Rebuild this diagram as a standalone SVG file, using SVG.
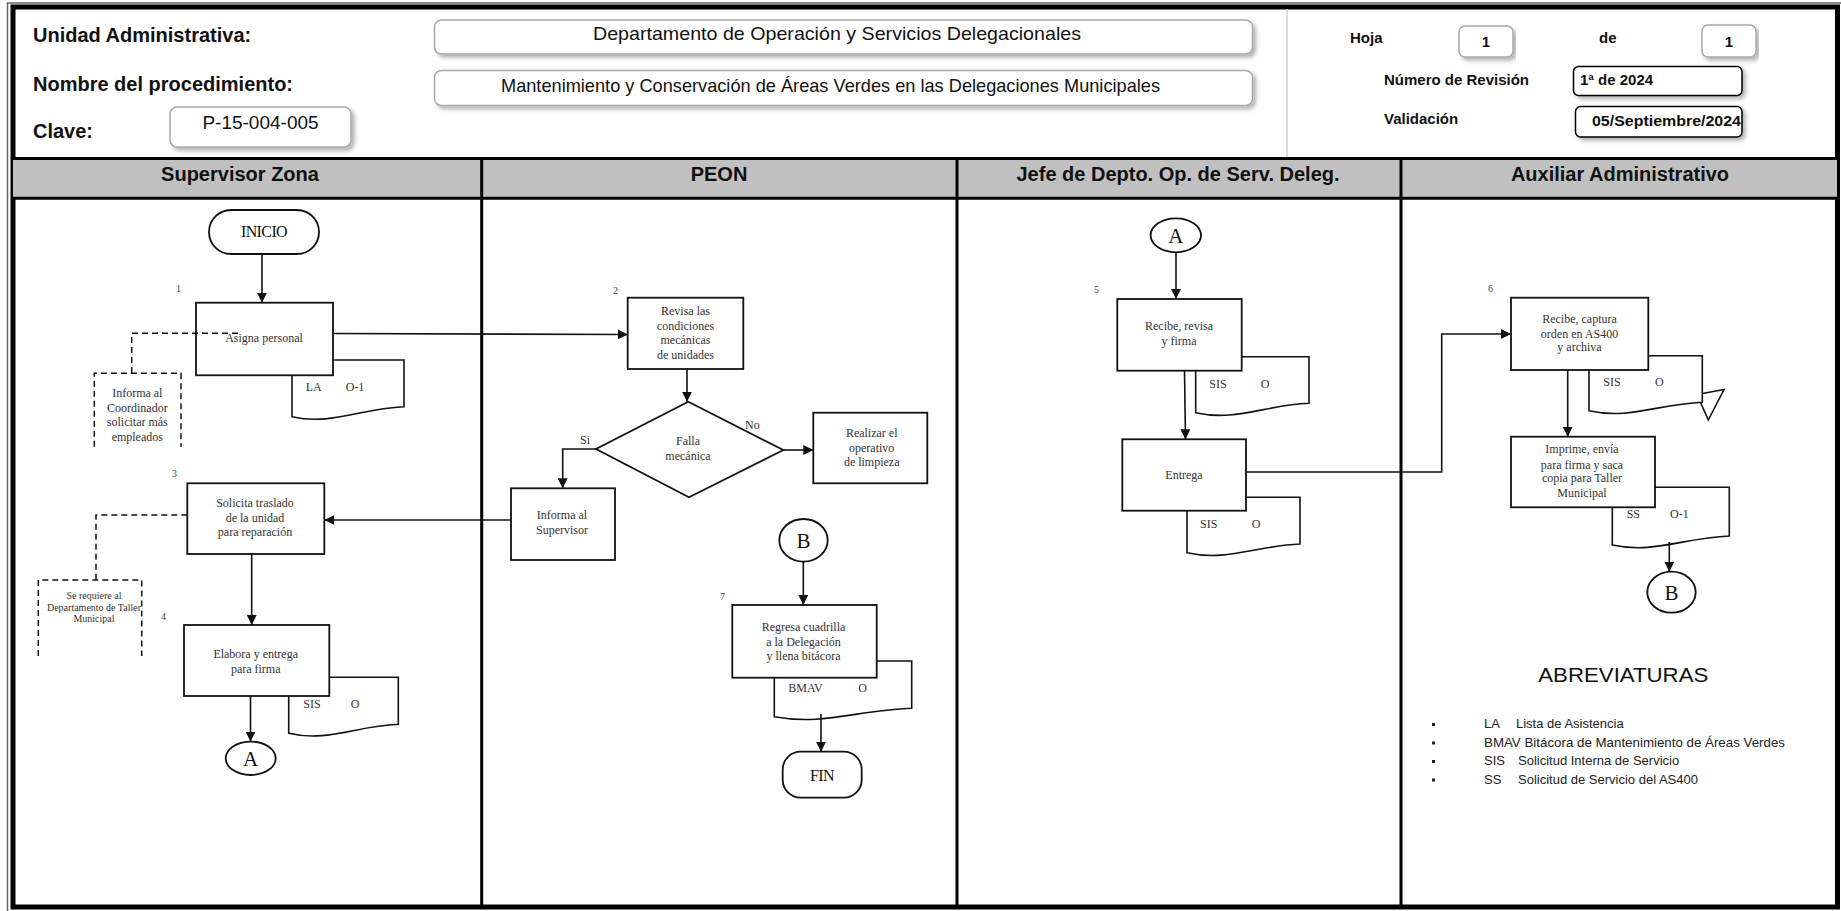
<svg xmlns="http://www.w3.org/2000/svg" width="1841" height="911" viewBox="0 0 1841 911">
  <defs>
    <style>
      .hl { font-family: "Liberation Sans", Arial, sans-serif; font-weight: bold; font-size: 20px; fill: #111; }
      .hv { font-family: "Liberation Sans", Arial, sans-serif; font-size: 19px; fill: #111; }
      .hs { font-family: "Liberation Sans", Arial, sans-serif; font-weight: bold; font-size: 15px; fill: #111; }
      .lane { font-family: "Liberation Sans", Arial, sans-serif; font-weight: bold; font-size: 20px; fill: #111; text-anchor: middle; }
      .hbox { fill: #fff; stroke: #a8a8a8; stroke-width: 1.5; }
      .kbox { fill: #fff; stroke: #000; stroke-width: 1.5; }
      .box { fill: #fff; stroke: #111; stroke-width: 1.8; }
      .doc { fill: #fff; stroke: #111; stroke-width: 1.6; }
      .t { font-family: "Liberation Serif", "Times New Roman", serif; font-size: 12px; fill: #333; text-anchor: middle; }
      .td { font-family: "Liberation Serif", "Times New Roman", serif; font-size: 12px; fill: #333; }
      .ts { font-family: "Liberation Serif", "Times New Roman", serif; font-size: 10px; fill: #333; text-anchor: middle; }
      .num { font-family: "Liberation Serif", "Times New Roman", serif; font-size: 10px; fill: #444; }
      .term { font-family: "Liberation Serif", "Times New Roman", serif; font-size: 16px; fill: #111; text-anchor: middle; letter-spacing: -0.6px; }
      .conn { font-family: "Liberation Serif", "Times New Roman", serif; font-size: 21px; fill: #111; text-anchor: middle; }
      .line { fill: none; stroke: #111; stroke-width: 1.6; }
      .arrow { fill: none; stroke: #111; stroke-width: 1.6; marker-end: url(#ah); }
      .dash { fill: none; stroke: #111; stroke-width: 1.5; stroke-dasharray: 6 4; }
      .abr { font-family: "Liberation Sans", Arial, sans-serif; font-size: 13px; fill: #222; }
    </style>
    <marker id="ah" viewBox="0 0 10 10" refX="10" refY="5" markerWidth="10" markerHeight="10" markerUnits="userSpaceOnUse" orient="auto">
      <path d="M0,0 L10,5 L0,10 z" fill="#111"/>
    </marker>
    <filter id="shadow" x="-5%" y="-20%" width="110%" height="150%">
      <feDropShadow dx="3" dy="3" stdDeviation="2" flood-color="#000" flood-opacity="0.3"/>
    </filter>
  </defs>

  <rect width="1841" height="911" fill="#fff"/>

  <!-- page frame -->
  <g id="frame">
    <rect x="7.5" y="3" width="1840" height="915" fill="none" stroke="#666" stroke-width="1.5"/>
    <rect x="13" y="7" width="1824.5" height="900" fill="none" stroke="#000" stroke-width="5"/>
    <line x1="1287" y1="9" x2="1287" y2="157" stroke="#d0d0d0" stroke-width="1.5"/>
  </g>

  <!-- header -->
  <g id="header">
    <text class="hl" x="33" y="42">Unidad Administrativa:</text>
    <text class="hl" x="33" y="91">Nombre del procedimiento:</text>
    <text class="hl" x="33" y="138">Clave:</text>

    <rect class="hbox" x="434.5" y="20" width="818" height="34" rx="7" filter="url(#shadow)"/>
    <text class="hv" x="837" y="40" text-anchor="middle" textLength="488" lengthAdjust="spacingAndGlyphs">Departamento de Operación y Servicios Delegacionales</text>

    <rect class="hbox" x="434.5" y="70.5" width="818" height="35" rx="7" filter="url(#shadow)"/>
    <text class="hv" x="830.5" y="92" text-anchor="middle" font-size="18" textLength="659" lengthAdjust="spacingAndGlyphs">Mantenimiento y Conservación de Áreas Verdes en las Delegaciones Municipales</text>

    <rect class="hbox" x="170" y="107" width="181" height="40" rx="7" filter="url(#shadow)"/>
    <text class="hv" x="260.5" y="129" text-anchor="middle" font-size="16">P-15-004-005</text>

    <text class="hs" x="1350" y="43">Hoja</text>
    <rect class="hbox" x="1459" y="26" width="54" height="31" rx="6" filter="url(#shadow)"/>
    <text class="hs" x="1486" y="47" text-anchor="middle">1</text>
    <text class="hs" x="1599" y="43">de</text>
    <rect class="hbox" x="1702" y="25" width="54" height="32" rx="6" filter="url(#shadow)"/>
    <text class="hs" x="1729" y="47" text-anchor="middle">1</text>

    <text class="hs" x="1384" y="85">Número de Revisión</text>
    <rect class="kbox" x="1573.5" y="66.5" width="168.5" height="29" rx="5" filter="url(#shadow)"/>
    <text class="hs" x="1580" y="85">1ª de 2024</text>

    <text class="hs" x="1384" y="124">Validación</text>
    <rect class="kbox" x="1575.5" y="106.5" width="166.5" height="30.5" rx="5" filter="url(#shadow)"/>
    <text class="hs" x="1592" y="126" textLength="149" lengthAdjust="spacingAndGlyphs">05/Septiembre/2024</text>
  </g>

  <!-- swimlanes -->
  <g id="lanes">
    <rect x="13" y="158.5" width="1824" height="40" fill="#c0c0c0"/>
    <line x1="13" y1="158.5" x2="1837" y2="158.5" stroke="#000" stroke-width="3"/>
    <line x1="13" y1="198.3" x2="1837" y2="198.3" stroke="#000" stroke-width="3"/>
    <line x1="481.7" y1="158" x2="481.7" y2="907" stroke="#000" stroke-width="3"/>
    <line x1="957" y1="158" x2="957" y2="907" stroke="#000" stroke-width="3"/>
    <line x1="1401" y1="158" x2="1401" y2="907" stroke="#000" stroke-width="3"/>
    <text class="lane" x="240" y="181">Supervisor Zona</text>
    <text class="lane" x="719" y="181">PEON</text>
    <text class="lane" x="1178" y="181">Jefe de Depto. Op. de Serv. Deleg.</text>
    <text class="lane" x="1620" y="181">Auxiliar Administrativo</text>
  </g>

  <!-- Supervisor Zona -->
  <g id="inicio">
    <rect class="box" x="209" y="210" width="110" height="44" rx="22"/>
    <text class="term" x="264" y="237">INICIO</text>
  </g>
  <g id="paso1">
    <text class="num" x="176" y="292">1</text>
    <path class="doc" d="M292,360 H404 V406.7 C359.2,408.7 331.2,425.7 292,416.7 Z"/>
    <text class="td" x="305.7" y="391">LA</text>
    <text class="td" x="345.7" y="391">O-1</text>
    <rect class="box" x="196" y="302.7" width="137" height="72.6"/>
    <text class="t" x="264" y="342">Asigna personal</text>
  </g>
  <g id="nota-coordinador">
    <path class="dash" d="M94.3,446.7 V373.3 H181 V446.7"/>
    <text class="t" x="137.3" y="397">Informa al</text>
    <text class="t" x="137.3" y="412">Coordinador</text>
    <text class="t" x="137.3" y="426">solicitar más</text>
    <text class="t" x="137.3" y="441">empleados</text>
  </g>
  <g id="paso3">
    <text class="num" x="172" y="477">3</text>
    <rect class="box" x="187.3" y="483.3" width="137" height="70.7"/>
    <text class="t" x="255" y="507">Solicita traslado</text>
    <text class="t" x="255" y="522">de la unidad</text>
    <text class="t" x="255" y="536">para reparación</text>
  </g>
  <g id="nota-taller">
    <path class="dash" d="M38.3,656 V580 H141.7 V656"/>
    <text class="ts" x="94" y="599">Se requiere al</text>
    <text class="ts" x="94" y="610.5">Departamento de Taller</text>
    <text class="ts" x="94" y="622">Municipal</text>
  </g>
  <g id="paso4">
    <text class="num" x="161" y="620">4</text>
    <path class="doc" d="M288.7,677.3 H398.3 V724.3 C354.5,726.3 327.1,742.3 288.7,733.3 Z"/>
    <text class="td" x="303.3" y="708">SIS</text>
    <text class="td" x="350.7" y="708">O</text>
    <rect class="box" x="184" y="625" width="145.3" height="71"/>
    <text class="t" x="255.7" y="658">Elabora y entrega</text>
    <text class="t" x="255.7" y="673">para firma</text>
  </g>
  <g id="conector-a1">
    <ellipse class="box" cx="250.7" cy="758.3" rx="25" ry="16.7"/>
    <text class="conn" x="250.7" y="765.5">A</text>
  </g>

  <!-- PEON -->
  <g id="paso2">
    <text class="num" x="613" y="294">2</text>
    <rect class="box" x="627.7" y="297.7" width="115.6" height="71.3"/>
    <text class="t" x="685.5" y="315">Revisa las</text>
    <text class="t" x="685.5" y="330">condiciones</text>
    <text class="t" x="685.5" y="344">mecánicas</text>
    <text class="t" x="685.5" y="359">de unidades</text>
  </g>
  <g id="decision">
    <polygon class="box" points="688.3,401.7 783.3,450 689,497.3 596,449"/>
    <text class="t" x="688" y="445">Falla</text>
    <text class="t" x="688" y="460">mecánica</text>
  </g>
  <g id="realizar">
    <rect class="box" x="813.3" y="412.7" width="114" height="70.6"/>
    <text class="t" x="871.7" y="437">Realizar el</text>
    <text class="t" x="871.7" y="452">operativo</text>
    <text class="t" x="871.7" y="466">de limpieza</text>
  </g>
  <g id="informa-supervisor">
    <rect class="box" x="511" y="488.3" width="104" height="71.7"/>
    <text class="t" x="562" y="519">Informa al</text>
    <text class="t" x="562" y="534">Supervisor</text>
  </g>
  <g id="conector-b2">
    <ellipse class="box" cx="803.5" cy="540.3" rx="24.2" ry="21.3"/>
    <text class="conn" x="803.5" y="547.5">B</text>
  </g>
  <g id="paso7">
    <text class="num" x="720" y="600">7</text>
    <path class="doc" d="M774.3,661 H911.7 V708.3 C856.7,710.3 822.4,725.7 774.3,716.7 Z"/>
    <text class="td" x="788.3" y="692">BMAV</text>
    <text class="td" x="858.3" y="692">O</text>
    <rect class="box" x="732.3" y="605" width="144.4" height="72.7"/>
    <text class="t" x="803.5" y="631">Regresa cuadrilla</text>
    <text class="t" x="803.5" y="646">a la Delegación</text>
    <text class="t" x="803.5" y="660">y llena bitácora</text>
  </g>
  <g id="fin">
    <rect class="box" x="782.7" y="751.7" width="79" height="46" rx="18"/>
    <text class="term" x="822" y="781">FIN</text>
  </g>

  <!-- Jefe de Depto. -->
  <g id="conector-a2">
    <ellipse class="box" cx="1175.8" cy="235.3" rx="25.2" ry="17"/>
    <text class="conn" x="1175.8" y="242.5">A</text>
  </g>
  <g id="paso5">
    <text class="num" x="1094" y="293">5</text>
    <path class="doc" d="M1195.7,356.7 H1309 V403.3 C1263.7,405.3 1235.4,421.7 1195.7,412.7 Z"/>
    <text class="td" x="1209.3" y="388">SIS</text>
    <text class="td" x="1260.7" y="388">O</text>
    <rect class="box" x="1117.3" y="299" width="124.4" height="71.7"/>
    <text class="t" x="1179" y="330">Recibe, revisa</text>
    <text class="t" x="1179" y="345">y firma</text>
  </g>
  <g id="entrega">
    <path class="doc" d="M1187,497.3 H1300 V544 C1254.8,546 1226.6,561.7 1187,552.7 Z"/>
    <text class="td" x="1200" y="528">SIS</text>
    <text class="td" x="1251.7" y="528">O</text>
    <rect class="box" x="1122.3" y="439.3" width="123.7" height="71.4"/>
    <text class="t" x="1184" y="479">Entrega</text>
  </g>

  <!-- Auxiliar Administrativo -->
  <g id="paso6">
    <text class="num" x="1488" y="292">6</text>
    <polygon class="doc" points="1697,394.5 1724,389.5 1708.3,420"/>
    <path class="doc" d="M1589,355.7 H1702.3 V402.3 C1657,404.3 1628.7,419.7 1589,410.7 Z"/>
    <text class="td" x="1603.3" y="386">SIS</text>
    <text class="td" x="1655" y="386">O</text>
    <rect class="box" x="1511" y="297.7" width="137.3" height="72.3"/>
    <text class="t" x="1579.5" y="323">Recibe, captura</text>
    <text class="t" x="1579.5" y="338">orden en AS400</text>
    <text class="t" x="1579.5" y="351">y archiva</text>
  </g>
  <g id="imprime">
    <path class="doc" d="M1612.3,487.3 H1729.3 V536 C1682.5,538 1653.3,554 1612.3,545 Z"/>
    <text class="td" x="1626.7" y="518">SS</text>
    <text class="td" x="1670" y="518">O-1</text>
    <rect class="box" x="1511" y="436.7" width="144" height="70.6"/>
    <text class="t" x="1582" y="453">Imprime, envía</text>
    <text class="t" x="1582" y="468.5">para firma y saca</text>
    <text class="t" x="1582" y="482">copia para Taller</text>
    <text class="t" x="1582" y="497">Municipal</text>
  </g>
  <g id="conector-b1">
    <ellipse class="box" cx="1671.5" cy="592.2" rx="24.2" ry="20.5"/>
    <text class="conn" x="1671.5" y="599.5">B</text>
  </g>

  <g id="abreviaturas">
    <text x="1623.3" y="682" font-family="Liberation Sans, Arial, sans-serif" font-size="21" fill="#111" text-anchor="middle" textLength="170" lengthAdjust="spacingAndGlyphs">ABREVIATURAS</text>
    <rect x="1432" y="723" width="3" height="3" fill="#222"/>
    <rect x="1432" y="741.5" width="3" height="3" fill="#222"/>
    <rect x="1432" y="760" width="3" height="3" fill="#222"/>
    <rect x="1432" y="778.5" width="3" height="3" fill="#222"/>
    <text class="abr" x="1484" y="728">LA</text>
    <text class="abr" x="1516" y="728">Lista de Asistencia</text>
    <text class="abr" x="1484" y="746.5" textLength="301" lengthAdjust="spacingAndGlyphs">BMAV Bitácora de Mantenimiento de Áreas Verdes</text>
    <text class="abr" x="1484" y="765">SIS</text>
    <text class="abr" x="1518" y="765">Solicitud Interna de Servicio</text>
    <text class="abr" x="1484" y="783.5">SS</text>
    <text class="abr" x="1518" y="783.5">Solicitud de Servicio del AS400</text>
  </g>

  <!-- connectors -->
  <g id="connectors">
    <path class="arrow" d="M262,254 V302.7"/>
    <path class="arrow" d="M333,333.5 L627.7,334.5"/>
    <path class="dash" d="M238,333.3 H131.7 V373.3"/>
    <path class="arrow" d="M687,369 V401.7"/>
    <path class="arrow" d="M783.3,450 H813.3"/>
    <path class="arrow" d="M596,449 H562.7 V488.3"/>
    <path class="arrow" d="M511,520 H324.3"/>
    <path class="dash" d="M187.3,515 H96 V580"/>
    <path class="arrow" d="M251.7,554 V625"/>
    <path class="arrow" d="M250.5,696 V741.6"/>
    <path class="arrow" d="M1176,252.3 V299"/>
    <path class="arrow" d="M1184.5,370.7 L1185.5,439.3"/>
    <path class="arrow" d="M1246,472 H1441.7 V334 H1511"/>
    <path class="arrow" d="M1567.7,370 V436.7"/>
    <path class="arrow" d="M1669.3,542 V571.7"/>
    <path class="arrow" d="M803.3,561.6 V605"/>
    <path class="arrow" d="M821,714 V751.7"/>
    <text class="td" x="580" y="444">Si</text>
    <text class="td" x="745" y="429">No</text>
  </g>
</svg>
